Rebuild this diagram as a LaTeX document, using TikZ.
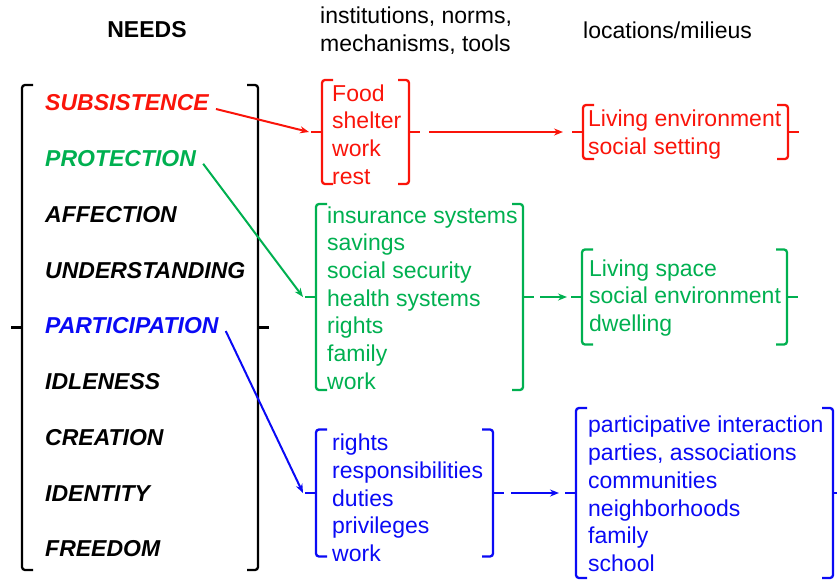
\documentclass[tikz,border=0pt]{standalone}
\usepackage{fontspec}
\setmainfont{Liberation Sans}
\usetikzlibrary{arrows.meta, positioning, calc}
\definecolor{needred}{RGB}{250,20,10}
\definecolor{needgreen}{RGB}{0,176,80}
\definecolor{needblue}{RGB}{10,10,245}
\tikzset{every node/.append style={font=\fontsize{23}{27.7}\selectfont}}
\tikzset{
  need/.style={anchor=west, inner sep=2pt, font=\fontsize{23}{27.7}\selectfont\bfseries\itshape},
  grp/.style={rectangle, inner sep=0pt, outer sep=0pt},
  txt/.style={anchor=west, align=left, inner sep=0pt},
  hdr/.style={inner sep=0pt},
  brkline/.style={line width=2.3pt, rounded corners=3pt},
  arr/.style={-{Stealth[length=9pt,width=7pt]}, line width=2pt}
}
% square bracket round a group node, with a tick on each side
\newcommand{\brk}[2]{%
  \draw[brkline, #2] ([xshift=11pt]#1.north west) -- (#1.north west) -- (#1.south west) -- ([xshift=11pt]#1.south west);
  \draw[brkline, #2] ([xshift=-11pt]#1.north east) -- (#1.north east) -- (#1.south east) -- ([xshift=-11pt]#1.south east);
  \draw[brkline, #2] (#1.west) -- ++(-11pt,0) coordinate (#1-l);
  \draw[brkline, #2] (#1.east) -- ++(11pt,0) coordinate (#1-r);
}

\begin{document}
\begin{tikzpicture}[x=1pt, y=-1pt]
  \useasboundingbox (0,0) rectangle (837,581);
  % headers
  \node[hdr, font=\fontsize{23}{27.7}\selectfont\bfseries] (hneeds) at (147,30) {NEEDS};
  \node[hdr, anchor=west, align=left] (hinst) at (320,30.5) {institutions, norms,\\mechanisms, tools};
  \node[hdr, anchor=west] (hloc) at (583,30) {locations/milieus};
  % needs
  \foreach \nm/\txt/\col [count=\i] in {sub/SUBSISTENCE/needred, pro/PROTECTION/needgreen,
      aff/AFFECTION/black, und/UNDERSTANDING/black, par/PARTICIPATION/needblue,
      idl/IDLENESS/black, cre/CREATION/black, ide/IDENTITY/black, fre/FREEDOM/black}
    \node[need, text=\col] (\nm) at (43,{47.25+\i*55.75}) {\txt};
  \node[grp, minimum width=236pt, minimum height=485pt] (needs) at (140,327.5) {};
  \brk{needs}{black}
  % subsistence
  \node[grp, minimum width=87pt, minimum height=104pt] (food) at (365.5,132) {};
  \node[txt, text=needred] (foodtxt) at (332,134.5) {Food\\shelter\\work\\rest};
  \brk{food}{needred}
  \node[grp, minimum width=205pt, minimum height=54pt] (live) at (685.5,132) {};
  \node[txt, text=needred] (livetxt) at (588,134.5) {Living environment\\social setting};
  \brk{live}{needred}
  % protection
  \node[grp, minimum width=207pt, minimum height=186pt] (ins) at (419.5,297) {};
  \node[txt, text=needgreen] (instxt) at (327,298) {insurance systems\\savings\\social security\\health systems\\rights\\family\\work};
  \brk{ins}{needgreen}
  \node[grp, minimum width=205pt, minimum height=95pt] (space) at (684.5,297) {};
  \node[txt, text=needgreen] (spacetxt) at (589,298) {Living space\\social environment\\dwelling};
  \brk{space}{needgreen}
  % participation
  \node[grp, minimum width=177pt, minimum height=127pt] (rig) at (404.5,493) {};
  \node[txt, text=needblue] (rigtxt) at (332,498) {rights\\responsibilities\\duties\\privileges\\work};
  \brk{rig}{needblue}
  \node[grp, minimum width=257pt, minimum height=170pt] (part) at (704.5,493) {};
  \node[txt, text=needblue] (parttxt) at (588,494) {participative interaction\\parties, associations\\communities\\neighborhoods\\family\\school};
  \brk{part}{needblue}
  % arrows
  \draw[arr, needred] ([shift={(5pt,-6pt)}]sub.east) -- ([xshift=-2pt]food-l);
  \draw[arr, needgreen] ([shift={(5pt,-5pt)}]pro.east) -- ([xshift=-2pt]ins-l);
  \draw[arr, needblue] ([shift={(5pt,-5pt)}]par.east) -- ([xshift=-2pt]rig-l);
  \draw[arr, needred, shorten <=9pt, shorten >=9pt] (food-r) -- (live-l);
  \draw[arr, needgreen, shorten <=6pt, shorten >=4pt] (ins-r) -- (space-l);
  \draw[arr, needblue, shorten <=7pt, shorten >=6pt] (rig-r) -- (part-l);
\end{tikzpicture}
\end{document}
